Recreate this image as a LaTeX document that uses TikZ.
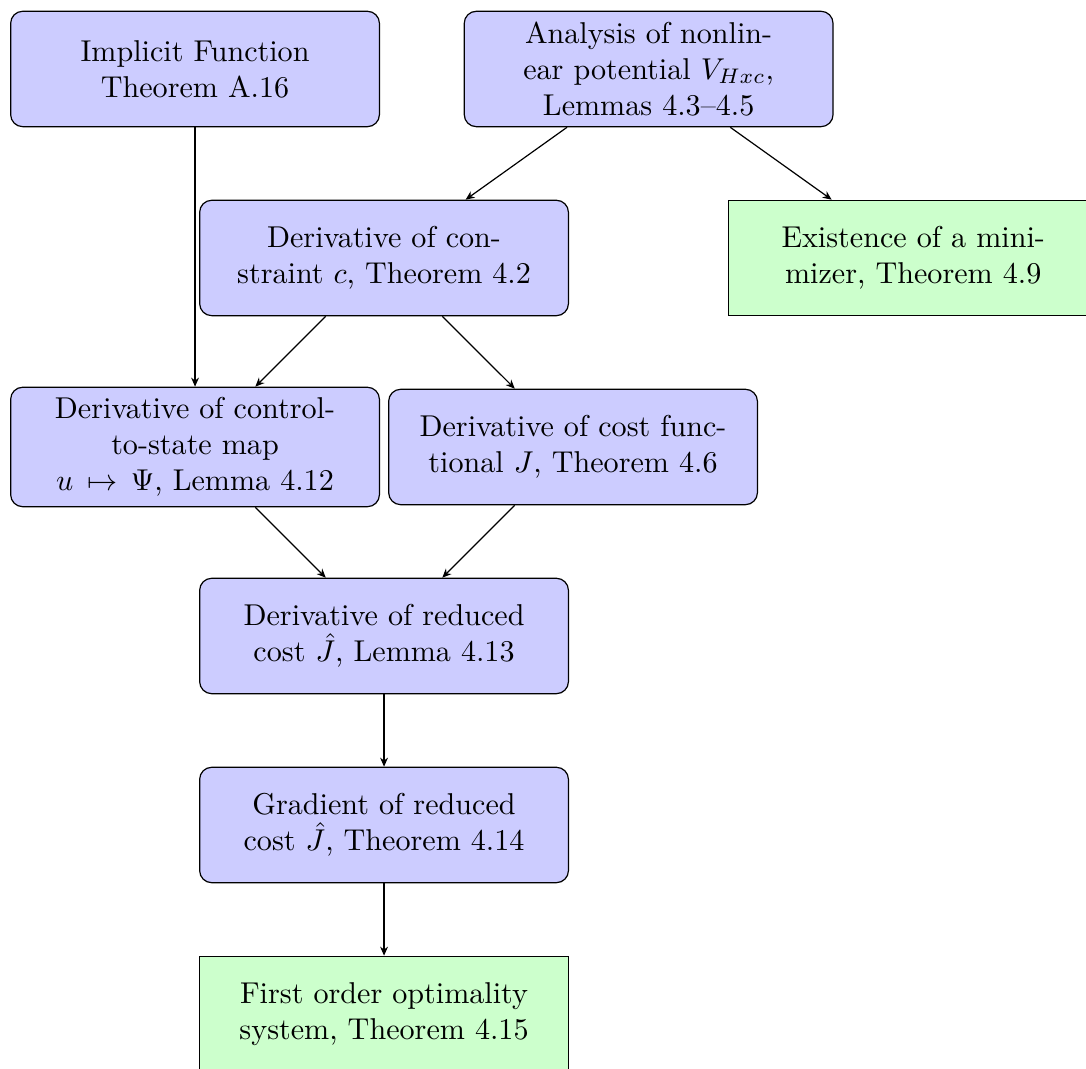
\documentclass[tikz,border=0pt]{standalone}
\usepackage{amsmath,amssymb}
\usepackage{xcolor}
\usepackage{tikz}
\usetikzlibrary{positioning,arrows.meta}

\tikzset{
  block/.style={rectangle, draw, fill=blue!20, text width=117.5pt, text centered,
                inner xsep=2.45pt, rounded corners, minimum height=38.3pt},
  result/.style={rectangle, draw, fill=green!20, text width=117.5pt, text centered,
                 inner xsep=2.45pt, minimum height=38.3pt},
  line/.style={draw, -{Stealth[length=3pt, width=2.6pt]}}
}

\begin{document}
\begin{tikzpicture}[x=62.73pt, y=62.73pt]
  \useasboundingbox (-2.032,1.365) rectangle (3.714,-4.286);
  \node[block]  (ift)   at (-1,1)   {Implicit Function Theorem A.16};
  \node[block]  (vhxc)  at (1.4,1)  {Analysis of nonlinear potential $V_{Hxc}$, Lemmas 4.3--4.5};
  \node[block]  (dc)    at (0,0)    {Derivative of constraint $c$, Theorem 4.2};
  \node[result] (exist) at (2.8,0)  {Existence of a minimizer, Theorem 4.9};
  \node[block]  (dpsi)  at (-1,-1)  {Derivative of control-to-state map $u\mapsto\Psi$, Lemma 4.12};
  \node[block]  (dj)    at (1,-1)   {Derivative of cost functional $J$, Theorem 4.6};
  \node[block]  (djhat) at (0,-2)   {Derivative of reduced cost $\hat{J}$, Lemma 4.13};
  \node[block]  (grad)  at (0,-3)   {Gradient of reduced cost $\hat{J}$, Theorem 4.14};
  \node[result] (fos)   at (0,-4)   {First order optimality system, Theorem 4.15};
  % connectors
  \path[line] (ift) -- (dpsi);
  \path[line] (vhxc) -- (dc);
  \path[line] (vhxc) -- (exist);
  \path[line] (dc) -- (dpsi);
  \path[line] (dc) -- (dj);
  \path[line] (dpsi) -- (djhat);
  \path[line] (dj) -- (djhat);
  \path[line] (djhat) -- (grad);
  \path[line] (grad) -- (fos);
\end{tikzpicture}
\end{document}
